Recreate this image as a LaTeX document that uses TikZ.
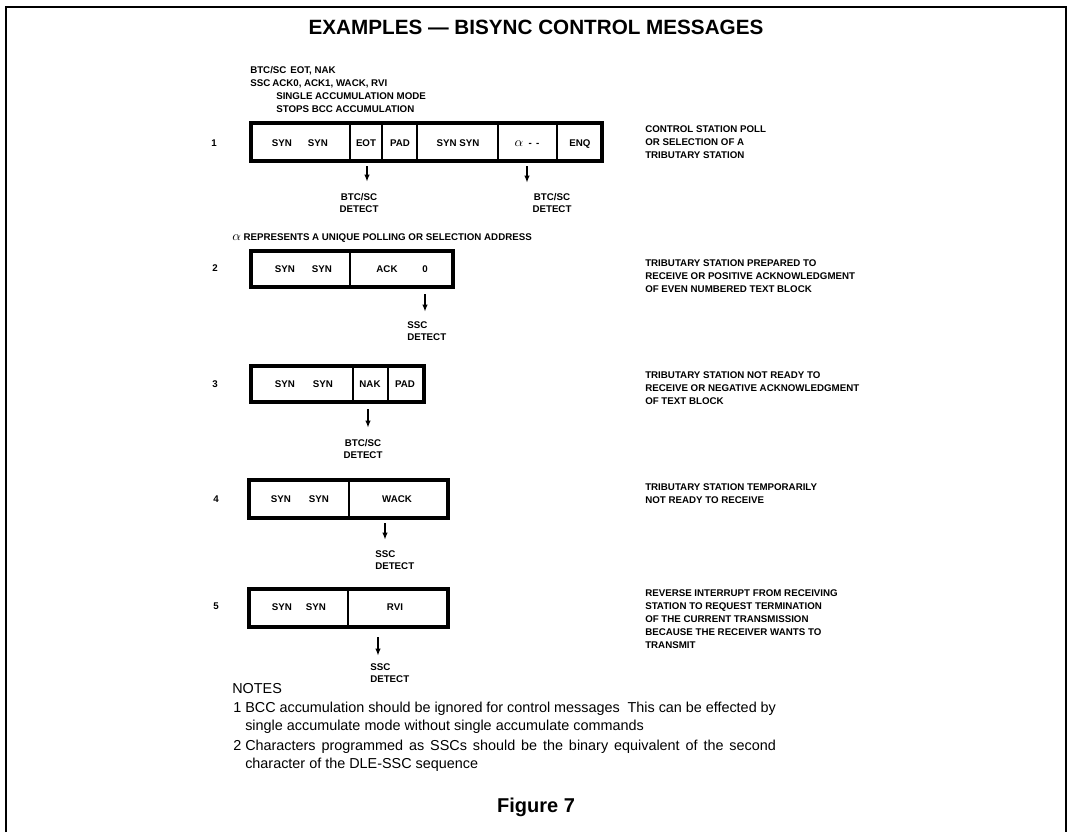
\documentclass[tikz,border=0pt]{standalone}
\usepackage{fontspec}
\setmainfont{Liberation Sans}
\newfontfamily\notefont{Liberation Sans}
\usetikzlibrary{arrows.meta,calc}
\tikzset{
  cellst/.style={draw, line width=1.6pt, inner sep=0pt},
  rowframe/.style={line width=2.4pt},
  frame/.style={line width=1.8pt},
  bt/.style={font=\fontsize{7.3}{8.5}\selectfont\bfseries, inner sep=0pt, text height=5.2pt, text depth=0pt},
  lbl/.style={bt, anchor=west},
  note/.style={font=\fontsize{10.8}{13}\notefont, inner sep=0pt, anchor=west, text height=7.7pt, text depth=0pt},
  arr/.style={line width=1.1pt, -{Latex[length=5.5pt,width=4pt]}},
}
\newcommand\cellbox[5]{%
  \pgfmathsetmacro\cw{(#3-#2)*0.75}\pgfmathsetmacro\ch{(#5-#4)*0.75}%
  \node[cellst,minimum width=\cw pt,minimum height=\ch pt] (#1) at ({(#2+#3)/2},{(#4+#5)/2}) {};}
\newcommand\alp{{\fontsize{10}{10}\selectfont$\alpha$}}
\begin{document}
\begin{tikzpicture}[x=0.75pt,y=-0.75pt]
\useasboundingbox (0,0) rectangle (1067,832);
\draw[frame] (6,832) -- (6,7) -- (1066,7) -- (1066,832);

% title
\node[font=\fontsize{15.5}{18}\selectfont\bfseries, inner sep=0pt] (title) at (536,27) {EXAMPLES --- BISYNC CONTROL MESSAGES};

% top notes
\node[lbl] (k1) at (250,70) {BTC/SC};
\node[lbl] (k1b) at (290,70) {EOT, NAK};
\node[lbl] (k2) at (250,83) {SSC};
\node[lbl] (k2b) at (272,83) {ACK0, ACK1, WACK, RVI};
\node[lbl] (k3) at (276,96) {SINGLE ACCUMULATION MODE};
\node[lbl] (k4) at (276,109) {STOPS BCC ACCUMULATION};

% ---------- row 1
\node[bt] (n1) at (214,143) {1};
\cellbox{r1a}{252}{350}{124}{160}
\cellbox{r1b}{350}{382}{124}{160}
\cellbox{r1c}{382}{417}{124}{160}
\cellbox{r1d}{417}{498}{124}{160}
\cellbox{r1e}{498}{557}{124}{160}
\cellbox{r1f}{557}{601}{124}{160}
\draw[rowframe] (r1a.north west) rectangle (r1f.south east);
\node[bt] (t1a) at (282,143) {SYN};
\node[bt] (t1b) at (318,143) {SYN};
\node[bt] (t1c) at (366,143) {EOT};
\node[bt] (t1d) at (400,143) {PAD};
\node[bt] (t1e) at (458,143) {SYN SYN};
\node[bt] (t1f) at (527,143) {\alp\ \ -\ \,-};
\node[bt] (t1g) at (580,143) {ENQ};
\node[bt] (d1a) at (359,197) {BTC/SC};
\node[bt] (d1b) at (359,209) {DETECT};
\node[bt] (d1c) at (552,197) {BTC/SC};
\node[bt] (d1d) at (552,209) {DETECT};
\coordinate (e1a) at (367,182);
\coordinate (e1b) at (527,183);
\draw[arr] ($(e1a |- r1b.south)+(0,5)$) -- (e1a);
\draw[arr] ($(e1b |- r1e.south)+(0,5)$) -- (e1b);
\node[lbl] (c1a) at (645,129) {CONTROL STATION POLL};
\node[lbl] (c1b) at (645,142) {OR SELECTION OF A};
\node[lbl] (c1c) at (645,155) {TRIBUTARY STATION};

\node[lbl] (alpha) at (232,237) {\alp\ REPRESENTS A UNIQUE POLLING OR SELECTION ADDRESS};

% ---------- row 2
\node[bt] (n2) at (215,268) {2};
\cellbox{r2a}{252}{350}{252}{286}
\cellbox{r2b}{350}{452}{252}{286}
\draw[rowframe] (r2a.north west) rectangle (r2b.south east);
\node[bt] (t2a) at (285,269) {SYN};
\node[bt] (t2b) at (322,269) {SYN};
\node[bt] (t2c) at (387,269) {ACK};
\node[bt] (t2d) at (425,269) {0};
\node[lbl] (d2a) at (407,325) {SSC};
\node[lbl] (d2b) at (407,337) {DETECT};
\coordinate (e2) at (425,312);
\draw[arr] ($(e2 |- r2b.south)+(0,7)$) -- (e2);
\node[lbl] (c2a) at (645,263) {TRIBUTARY STATION PREPARED TO};
\node[lbl] (c2b) at (645,276) {RECEIVE OR POSITIVE ACKNOWLEDGMENT};
\node[lbl] (c2c) at (645,289) {OF EVEN NUMBERED TEXT BLOCK};

% ---------- row 3
\node[bt] (n3) at (215,384) {3};
\cellbox{r3a}{252}{353}{367}{401}
\cellbox{r3b}{353}{388}{367}{401}
\cellbox{r3c}{388}{423}{367}{401}
\draw[rowframe] (r3a.north west) rectangle (r3c.south east);
\node[bt] (t3a) at (285,384) {SYN};
\node[bt] (t3b) at (323,384) {SYN};
\node[bt] (t3c) at (370,384) {NAK};
\node[bt] (t3d) at (405,384) {PAD};
\node[bt] (d3a) at (363,443) {BTC/SC};
\node[bt] (d3b) at (363,455) {DETECT};
\coordinate (e3) at (368,428);
\draw[arr] ($(e3 |- r3b.south)+(0,7)$) -- (e3);
\node[lbl] (c3a) at (645,375) {TRIBUTARY STATION NOT READY TO};
\node[lbl] (c3b) at (645,388) {RECEIVE OR NEGATIVE ACKNOWLEDGMENT};
\node[lbl] (c3c) at (645,401) {OF TEXT BLOCK};

% ---------- row 4
\node[bt] (n4) at (216,499) {4};
\cellbox{r4a}{250}{349}{481}{517}
\cellbox{r4b}{349}{447}{481}{517}
\draw[rowframe] (r4a.north west) rectangle (r4b.south east);
\node[bt] (t4a) at (281,499) {SYN};
\node[bt] (t4b) at (319,499) {SYN};
\node[bt] (t4c) at (397,499) {WACK};
\node[lbl] (d4a) at (375,554) {SSC};
\node[lbl] (d4b) at (375,566) {DETECT};
\coordinate (e4) at (385,540);
\draw[arr] ($(e4 |- r4b.south)+(0,5)$) -- (e4);
\node[lbl] (c4a) at (645,487) {TRIBUTARY STATION TEMPORARILY};
\node[lbl] (c4b) at (645,500) {NOT READY TO RECEIVE};

% ---------- row 5
\node[bt] (n5) at (216,606) {5};
\cellbox{r5a}{250}{348}{590}{626}
\cellbox{r5b}{348}{447}{590}{626}
\draw[rowframe] (r5a.north west) rectangle (r5b.south east);
\node[bt] (t5a) at (282,607) {SYN};
\node[bt] (t5b) at (316,607) {SYN};
\node[bt] (t5c) at (395,607) {RVI};
\node[lbl] (d5a) at (370,667) {SSC};
\node[lbl] (d5b) at (370,679) {DETECT};
\coordinate (e5) at (378,656);
\draw[arr] ($(e5 |- r5b.south)+(0,10)$) -- (e5);
\node[lbl] (c5a) at (645,593) {REVERSE INTERRUPT FROM RECEIVING};
\node[lbl] (c5b) at (645,606) {STATION TO REQUEST TERMINATION};
\node[lbl] (c5c) at (645,619) {OF THE CURRENT TRANSMISSION};
\node[lbl] (c5d) at (645,632) {BECAUSE THE RECEIVER WANTS TO};
\node[lbl] (c5e) at (645,645) {TRANSMIT};

% ---------- notes
\node[note] (notes) at (232,688) {NOTES};
\node[note] (m1) at (233,707) {1};
\node[note] (m1a) at (245,707) {\makebox[398pt][s]{BCC accumulation should be ignored for control messages\ \ This can be effected by}};
\node[note] (m1b) at (245,725) {single accumulate mode without single accumulate commands};
\node[note] (m2) at (233,745) {2};
\node[note] (m2a) at (245,745) {\makebox[398pt][s]{Characters programmed as SSCs should be the binary equivalent of the second}};
\node[note] (m2b) at (245,763) {character of the DLE-SSC sequence};

\node[font=\fontsize{15}{17}\selectfont\bfseries, inner sep=0pt] (fig) at (536,807) {Figure 7};
\end{tikzpicture}
\end{document}
